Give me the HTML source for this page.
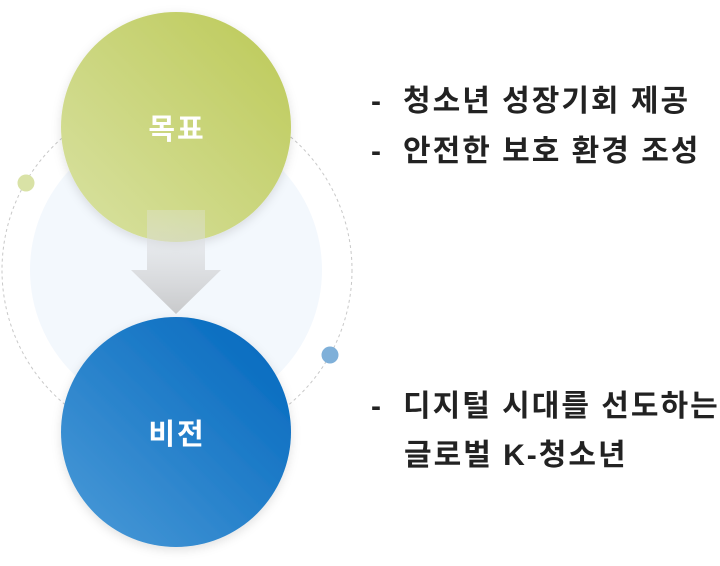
<!DOCTYPE html>
<html><head><meta charset="utf-8"><style>
body{margin:0;width:720px;height:566px;background:#fff;overflow:hidden;position:relative;font-family:"Liberation Sans","Noto Sans CJK KR",sans-serif}
.t{position:absolute;font-size:30px;font-weight:bold;color:#222;white-space:nowrap;letter-spacing:2px;line-height:36px}
</style></head><body>
<svg width="720" height="566" style="position:absolute;left:0;top:0">
<defs>
<linearGradient id="g" x1="1" y1="0" x2="0" y2="1"><stop offset="0" stop-color="#bcc957"/><stop offset="1" stop-color="#d9e2a3"/></linearGradient>
<linearGradient id="b" x1="1" y1="0" x2="0" y2="1"><stop offset="0" stop-color="#0066bd"/><stop offset="1" stop-color="#4c9bd8"/></linearGradient>
<linearGradient id="a" x1="0" y1="0" x2="0" y2="1"><stop offset="0" stop-color="#e4e5e7" stop-opacity="0.3"/><stop offset="1" stop-color="#c8c9cb"/></linearGradient>
<filter id="s" x="-20%" y="-20%" width="140%" height="140%"><feDropShadow dx="0" dy="3" stdDeviation="5" flood-color="#000" flood-opacity="0.12"/></filter>
</defs>
<circle cx="177" cy="270" r="175" fill="none" stroke="#c8c8c8" stroke-width="1" stroke-dasharray="3,3"/>
<circle cx="176" cy="270" r="146" fill="#f3f8fd"/>
<circle cx="176" cy="127" r="115" fill="url(#g)" filter="url(#s)"/>
<circle cx="176" cy="432" r="115" fill="url(#b)" filter="url(#s)"/>
<path d="M147 210 H205 V270 H221 L176 314 L131 270 H147 Z" fill="url(#a)"/>
<circle cx="26" cy="183" r="8.5" fill="#d9e2a6"/>
<circle cx="330" cy="355" r="8.5" fill="#7fb0d9"/>
<text x="177" y="139" text-anchor="middle" font-size="29" font-weight="bold" letter-spacing="2" fill="#fff" font-family="Liberation Sans, Noto Sans CJK KR, sans-serif">목표</text>
<text x="177" y="444" text-anchor="middle" font-size="29" font-weight="bold" letter-spacing="2" fill="#fff" font-family="Liberation Sans, Noto Sans CJK KR, sans-serif">비전</text>
</svg>
<div class="t" style="left:371px;top:84px">-</div>
<div class="t" style="left:403px;top:84px">청소년 성장기회 제공</div>
<div class="t" style="left:371px;top:134px">-</div>
<div class="t" style="left:403px;top:134px">안전한 보호 환경 조성</div>
<div class="t" style="left:371px;top:389px">-</div>
<div class="t" style="left:403px;top:389px">디지털 시대를 선도하는</div>
<div class="t" style="left:404px;top:438px">글로벌 K-청소년</div>
</body></html>
